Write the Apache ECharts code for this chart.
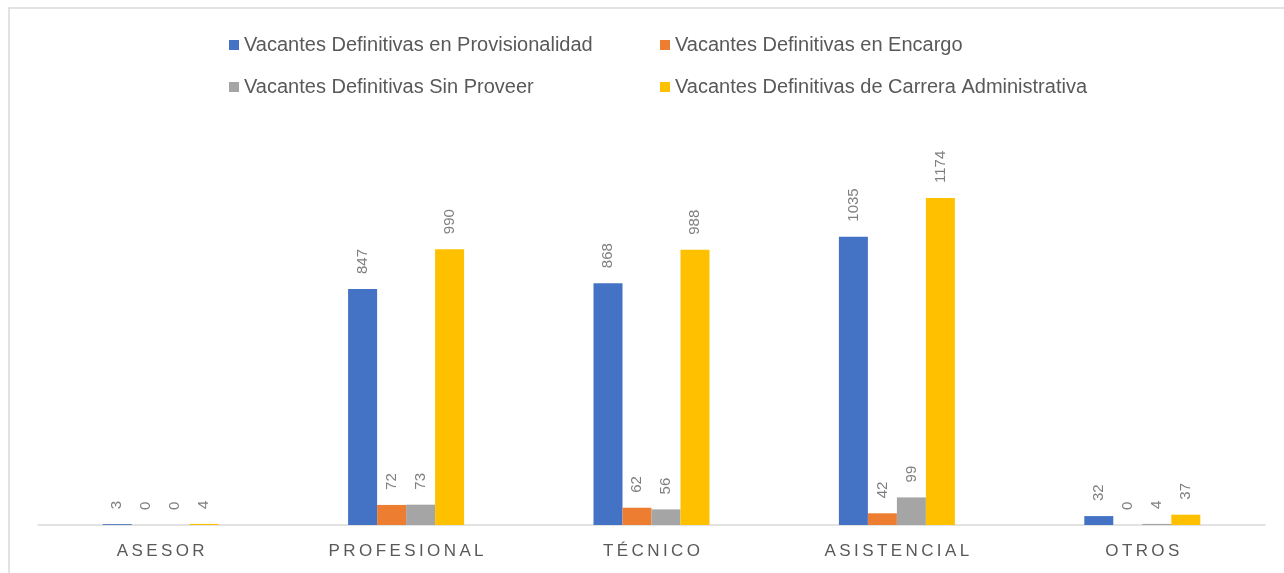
<!DOCTYPE html>
<html>
<head>
<meta charset="utf-8">
<script src="https://cdn.jsdelivr.net/npm/echarts@6/dist/echarts.min.js"></script>
<style>
  html, body { margin: 0; padding: 0; background: #fff; }
  #chart_con { width: 1284px; height: 573px; }
</style>
</head>
<body>
<div id="chart_con"></div>
<script>
// categorias y valores
var categories = ['ASESOR', 'PROFESIONAL', 'TÉCNICO', 'ASISTENCIAL', 'OTROS'];
var seriesNames = [
    'Vacantes Definitivas en Provisionalidad',
    'Vacantes Definitivas en Encargo',
    'Vacantes Definitivas Sin Proveer',
    'Vacantes Definitivas de Carrera Administrativa'
];
var provisionalidad = [3, 847, 868, 1035, 32];
var encargo = [0, 72, 62, 42, 0];
var sinProveer = [0, 73, 56, 99, 4];
var carrera = [4, 990, 988, 1174, 37];
var colors = ['#4472C4', '#ED7D31', '#A5A5A5', '#FFC000'];

var narrow = '"Liberation Sans Narrow", "Arial Narrow", "Liberation Sans", sans-serif';
var allData = [provisionalidad, encargo, sinProveer, carrera];

var series = [];
for (var i = 0; i < seriesNames.length; i++) {
    series.push({
        name: seriesNames[i],
        type: 'bar',
        data: allData[i],
        barWidth: 29,
        barGap: '0%',
        itemStyle: { color: colors[i] },
        label: {
            show: true,
            position: 'top',
            rotate: 90,
            align: 'left',
            verticalAlign: 'middle',
            distance: 15,
            color: '#7f7f7f',
            fontFamily: narrow,
            fontSize: 15
        }
    });
}

var legendText = { color: '#595959', fontFamily: narrow, fontSize: 20, lineHeight: 20 };

var chart = echarts.init(document.getElementById('chart_con'));
var option = {
    animation: false,
    graphic: [{
        type: 'rect',
        shape: { x: 9, y: 8, width: 1400, height: 700 },
        style: { fill: 'none', stroke: '#d9d9d9', lineWidth: 1.5 },
        silent: true
    }],
    legend: [{
        orient: 'vertical',
        left: 229,
        top: 35,
        padding: 0,
        itemWidth: 10,
        itemHeight: 10,
        itemGap: 22,
        icon: 'rect',
        data: [seriesNames[0], seriesNames[2]],
        textStyle: legendText
    }, {
        orient: 'vertical',
        left: 660,
        top: 35,
        padding: 0,
        itemWidth: 10,
        itemHeight: 10,
        itemGap: 22,
        icon: 'rect',
        data: [seriesNames[1], seriesNames[3]],
        textStyle: legendText
    }],
    grid: { left: 38, right: 19, top: 135, bottom: 48, containLabel: false },
    xAxis: {
        type: 'category',
        data: categories,
        axisLine: { lineStyle: { color: '#d9d9d9', width: 1.5 } },
        axisTick: { show: false },
        axisLabel: {
            color: '#595959',
            fontFamily: '"Liberation Sans", sans-serif',
            fontSize: 17,
            margin: 18,
            formatter: function (v) { return v.split('').join('\u2009'); }
        }
    },
    yAxis: {
        type: 'value',
        min: 0,
        max: 1400,
        show: false,
        splitLine: { show: false }
    },
    series: series
};
chart.setOption(option);
</script>
</body>
</html>
